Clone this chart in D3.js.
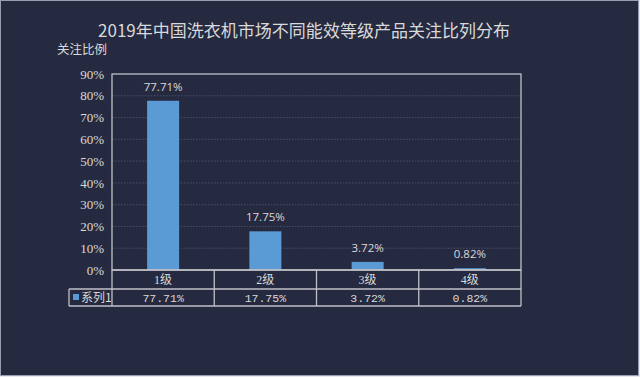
<!DOCTYPE html>
<html><head><meta charset="utf-8">
<script src="https://cdn.jsdelivr.net/npm/d3@7"></script>
<style>html,body{margin:0;padding:0;background:#e8e8ee;}svg{display:block;}</style>
</head><body>
<script>
const categories = ["1级","2级","3级","4级"];
const values = [77.71, 17.75, 3.72, 0.82];
const valueLabels = ["77.71%","17.75%","3.72%","0.82%"];
const yTicks = [0,10,20,30,40,50,60,70,80,90];
const seriesName = "系列1";
const title = "2019年中国洗衣机市场不同能效等级产品关注比列分布";
const yTitle = "关注比例";

const W = 640, H = 377;
const bg = "#262a40", fg = "#d9d9d9", lineC = "#c0c0c8", barC = "#5b9bd5";
const svg = d3.select("body").append("svg").attr("width", W).attr("height", H);
svg.append("rect").attr("x",0.5).attr("y",0.5).attr("width",638).attr("height",375)
  .attr("fill",bg).attr("stroke","#9a9cae").attr("stroke-width",1);

const L = 112, R = 521, T = 74, B = 270;
const x = d3.scaleBand().domain(categories).range([L, R]).paddingInner(0).paddingOuter(0);
const y = d3.scaleLinear().domain([0, 90]).range([B, T]);

const serif = "'Liberation Serif','Noto Sans CJK SC',serif";
const cjk = "'Noto Sans CJK SC','Liberation Serif',sans-serif";

// title
svg.append("text").attr("x", 304).attr("y", 37).attr("text-anchor","middle")
  .attr("fill", fg).attr("font-family", cjk).attr("font-size", 17.5)
  .attr("textLength", 412).attr("lengthAdjust","spacingAndGlyphs").text(title);
svg.append("text").attr("x", 57).attr("y", 54).attr("fill", fg)
  .attr("font-family", cjk).attr("font-size", 12.5).text(yTitle);

// gridlines
svg.append("g").selectAll("line").data(yTicks.filter(d => d > 0 && d < 90)).join("line")
  .attr("x1", L).attr("x2", R).attr("y1", d => y(d)).attr("y2", d => y(d))
  .attr("stroke", "#4b4f66").attr("stroke-width", 1).attr("stroke-dasharray", "1.5,1.5");

// y axis labels
const yAxis = d3.axisLeft(y).tickValues(yTicks).tickSize(0).tickPadding(8).tickFormat(d => d + "%");
const ga = svg.append("g").attr("transform", `translate(${L},0)`).call(yAxis);
ga.select(".domain").remove();
ga.selectAll("text").attr("fill", fg).attr("font-family", serif).attr("font-size", 13);

// bars
svg.append("g").selectAll("rect").data(values).join("rect")
  .attr("x", (d,i) => x(categories[i]) + x.bandwidth()/2 - 16)
  .attr("width", 32)
  .attr("y", d => y(d)).attr("height", d => B - y(d))
  .attr("fill", barC);

// value labels
svg.append("g").selectAll("text").data(values).join("text")
  .attr("x", (d,i) => x(categories[i]) + x.bandwidth()/2)
  .attr("y", d => y(d) - 10).attr("text-anchor","middle")
  .attr("fill", fg).attr("font-family", "'Open Sans','Noto Sans',sans-serif").attr("font-size", 11.5)
  .text((d,i) => valueLabels[i]);

// plot border
svg.append("rect").attr("x", L).attr("y", T).attr("width", R-L).attr("height", B-T)
  .attr("fill","none").attr("stroke", lineC).attr("stroke-width", 1.3);

// data table
const r1 = 289, r2 = 306, LL = 69;
const tg = svg.append("g").attr("stroke", lineC).attr("stroke-width", 1.3);
tg.append("line").attr("x1", L).attr("x2", R).attr("y1", B).attr("y2", B);
tg.append("line").attr("x1", LL).attr("x2", R).attr("y1", r1).attr("y2", r1);
tg.append("line").attr("x1", LL).attr("x2", R).attr("y1", r2).attr("y2", r2);
tg.append("line").attr("x1", LL).attr("x2", LL).attr("y1", r1).attr("y2", r2);
const bounds = categories.map(c => x(c)).concat([R]);
tg.selectAll(".v").data(bounds).join("line").attr("class","v")
  .attr("x1", d => d).attr("x2", d => d).attr("y1", B).attr("y2", r2);

svg.append("g").selectAll("text").data(categories).join("text")
  .attr("x", d => x(d) + x.bandwidth()/2).attr("y", r1 - 5).attr("text-anchor","middle")
  .attr("fill", fg).attr("font-family", serif).attr("font-size", 12).text(d => d);
svg.append("g").selectAll("text").data(valueLabels).join("text")
  .attr("x", (d,i) => x(categories[i]) + x.bandwidth()/2).attr("y", r2 - 4).attr("text-anchor","middle")
  .attr("fill", fg).attr("font-family", "'Liberation Mono','DejaVu Sans Mono',monospace").attr("font-size", 11.5)
  .text(d => d);

svg.append("rect").attr("x", 73).attr("y", 294).attr("width", 6).attr("height", 6).attr("fill", barC);
svg.append("text").attr("x", 81).attr("y", r2 - 4).attr("fill", fg)
  .attr("font-family", cjk).attr("font-size", 12).text(seriesName);
</script>
</body></html>
